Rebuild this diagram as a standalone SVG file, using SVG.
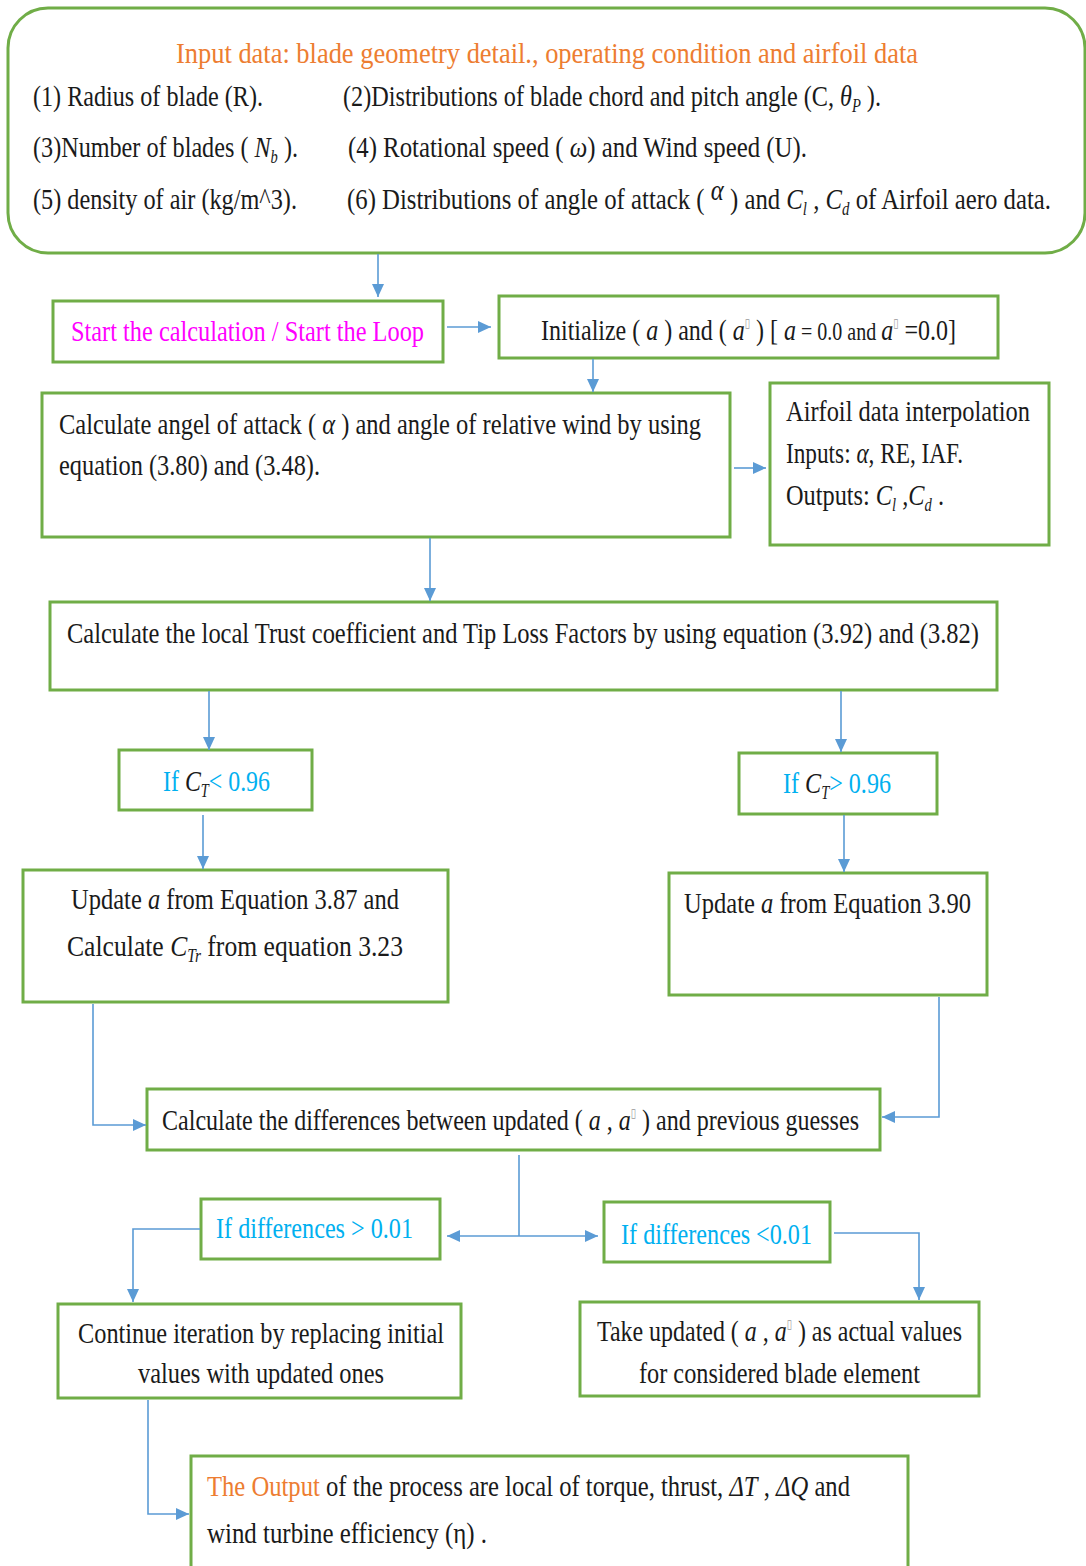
<svg xmlns="http://www.w3.org/2000/svg" width="1086" height="1566" viewBox="0 0 1086 1566">
  <defs>
    <style>
      .box { fill: #ffffff; stroke: #70AD47; stroke-width: 3; }
      .t { font-family: "Liberation Serif", "Times New Roman", serif; font-size: 30px; fill: #1a1a1a; }
      .i { font-style: italic; }
      .sub { font-size: 18px; font-style: italic; }
      .tofu { font-family: "DejaVu Sans", sans-serif; font-size: 12px; fill: #9a9a9a; }
      .cy { fill: #00B0F0; }
      .mg { fill: #FF00FF; }
      .or { fill: #ED7D31; }
      .conn { stroke: #5B9BD5; stroke-width: 1.6; fill: none; }
    </style>
    <marker id="arrow" markerUnits="userSpaceOnUse" markerWidth="13" markerHeight="12" refX="13" refY="6" orient="auto-start-reverse">
      <path d="M0,0 L13,6 L0,12 z" fill="#5B9BD5"/>
    </marker>
  </defs>
  <rect width="1086" height="1566" fill="#ffffff"/>

  <!-- input data panel -->
  <g id="input">
    <rect class="box" x="8" y="8" width="1077" height="245" rx="40" ry="40"/>
    <text class="t or" x="176" y="63" font-size="32" textLength="742" lengthAdjust="spacingAndGlyphs">Input data: blade geometry detail., operating condition and airfoil data</text>
    <text class="t" x="33" y="106" textLength="230" lengthAdjust="spacingAndGlyphs">(1) Radius of blade (R).</text>
    <text class="t" x="343" y="106" textLength="538" lengthAdjust="spacingAndGlyphs">(2)Distributions of blade chord and pitch angle (C, <tspan class="i">θ</tspan><tspan class="sub" dy="6">P</tspan><tspan dy="-6"> ).</tspan></text>
    <text class="t" x="33" y="157" textLength="265" lengthAdjust="spacingAndGlyphs">(3)Number of blades ( <tspan class="i">N</tspan><tspan class="sub" dy="6">b</tspan><tspan dy="-6"> ).</tspan></text>
    <text class="t" x="348" y="157" textLength="459" lengthAdjust="spacingAndGlyphs">(4) Rotational speed (  <tspan class="i">ω</tspan>) and Wind speed (U).</text>
    <text class="t" x="33" y="209" textLength="264" lengthAdjust="spacingAndGlyphs">(5) density of air (kg/m^3).</text>
    <text class="t" x="347" y="209" textLength="704" lengthAdjust="spacingAndGlyphs">(6) Distributions of angle of attack ( <tspan class="i" dy="-9">α</tspan><tspan dy="9">  ) and </tspan><tspan class="i">C</tspan><tspan class="sub" dy="6">l</tspan><tspan dy="-6"> , </tspan><tspan class="i">C</tspan><tspan class="sub" dy="6">d</tspan><tspan dy="-6"> of Airfoil aero data.</tspan></text>
  </g>

  <g id="start">
    <rect class="box" x="53" y="301" width="390" height="61"/>
    <text class="t mg" x="71" y="341" textLength="353" lengthAdjust="spacingAndGlyphs">Start the calculation / Start the Loop</text>
  </g>

  <g id="initialize">
    <rect class="box" x="499" y="296" width="499" height="62"/>
    <text class="t" x="541" y="340" textLength="415" lengthAdjust="spacingAndGlyphs">Initialize ( <tspan class="i">a</tspan> ) and ( <tspan class="i">a</tspan><tspan class="tofu" dy="-13">▯</tspan><tspan dy="13"> ) [ </tspan><tspan class="i">a</tspan><tspan font-size="25"> = 0.0 and </tspan><tspan class="i">a</tspan><tspan class="tofu" dy="-13">▯</tspan><tspan dy="13"> =0.0]</tspan></text>
  </g>

  <g id="angle">
    <rect class="box" x="42" y="393" width="688" height="144"/>
    <text class="t" x="59" y="434" textLength="642" lengthAdjust="spacingAndGlyphs">Calculate angel of attack ( <tspan class="i">α</tspan> ) and angle of relative wind by using</text>
    <text class="t" x="59" y="475" textLength="261" lengthAdjust="spacingAndGlyphs">equation (3.80) and (3.48).</text>
  </g>

  <g id="airfoil">
    <rect class="box" x="770" y="383" width="279" height="162"/>
    <text class="t" x="786" y="421" textLength="244" lengthAdjust="spacingAndGlyphs">Airfoil data interpolation</text>
    <text class="t" x="786" y="463" textLength="177" lengthAdjust="spacingAndGlyphs">Inputs: <tspan class="i">α</tspan>, RE, IAF.</text>
    <text class="t" x="786" y="505" textLength="158" lengthAdjust="spacingAndGlyphs">Outputs: <tspan class="i">C</tspan><tspan class="sub" dy="6">l</tspan><tspan dy="-6"> ,</tspan><tspan class="i">C</tspan><tspan class="sub" dy="6">d</tspan><tspan dy="-6"> .</tspan></text>
  </g>

  <g id="thrust">
    <rect class="box" x="50" y="602" width="947" height="88"/>
    <text class="t" x="67" y="643" textLength="912" lengthAdjust="spacingAndGlyphs">Calculate the local Trust coefficient and Tip Loss Factors by using equation (3.92) and (3.82)</text>
  </g>

  <g id="ct-low">
    <rect class="box" x="119" y="750" width="193" height="60"/>
    <text class="t cy" x="163" y="791" textLength="107" lengthAdjust="spacingAndGlyphs">If <tspan class="i" fill="#1a1a1a">C</tspan><tspan class="sub" fill="#1a1a1a" dy="6">T</tspan><tspan dy="-6">&lt; 0.96</tspan></text>
  </g>

  <g id="ct-high">
    <rect class="box" x="739" y="753" width="198" height="61"/>
    <text class="t cy" x="783" y="793" textLength="108" lengthAdjust="spacingAndGlyphs">If <tspan class="i" fill="#1a1a1a">C</tspan><tspan class="sub" fill="#1a1a1a" dy="6">T</tspan><tspan dy="-6">&gt; 0.96</tspan></text>
  </g>

  <g id="update-low">
    <rect class="box" x="23" y="870" width="425" height="132"/>
    <text class="t" x="71" y="909" textLength="328" lengthAdjust="spacingAndGlyphs">Update  <tspan class="i">a</tspan> from Equation 3.87 and</text>
    <text class="t" x="67" y="956" textLength="336" lengthAdjust="spacingAndGlyphs">Calculate    <tspan class="i">C</tspan><tspan class="sub" dy="6">Tr</tspan><tspan dy="-6"> from equation 3.23</tspan></text>
  </g>

  <g id="update-high">
    <rect class="box" x="669" y="873" width="318" height="122"/>
    <text class="t" x="684" y="913" textLength="287" lengthAdjust="spacingAndGlyphs">Update <tspan class="i">a</tspan>  from Equation 3.90</text>
  </g>

  <g id="differences">
    <rect class="box" x="147" y="1089" width="733" height="61"/>
    <text class="t" x="162" y="1130" textLength="697" lengthAdjust="spacingAndGlyphs">Calculate the differences between updated ( <tspan class="i">a</tspan> , <tspan class="i">a</tspan><tspan class="tofu" dy="-13">▯</tspan><tspan dy="13"> ) and previous guesses</tspan></text>
  </g>

  <g id="diff-high">
    <rect class="box" x="201" y="1199" width="239" height="60"/>
    <text class="t cy" x="216" y="1238" textLength="197" lengthAdjust="spacingAndGlyphs">If differences &gt; 0.01</text>
  </g>

  <g id="diff-low">
    <rect class="box" x="604" y="1202" width="226" height="60"/>
    <text class="t cy" x="621" y="1244" textLength="191" lengthAdjust="spacingAndGlyphs">If differences &lt;0.01</text>
  </g>

  <g id="continue">
    <rect class="box" x="58" y="1304" width="403" height="94"/>
    <text class="t" x="78" y="1343" textLength="366" lengthAdjust="spacingAndGlyphs">Continue iteration by replacing initial</text>
    <text class="t" x="138" y="1383" textLength="246" lengthAdjust="spacingAndGlyphs">values with updated ones</text>
  </g>

  <g id="accept">
    <rect class="box" x="580" y="1302" width="399" height="94"/>
    <text class="t" x="597" y="1341" textLength="365" lengthAdjust="spacingAndGlyphs">Take updated ( <tspan class="i">a</tspan> , <tspan class="i">a</tspan><tspan class="tofu" dy="-13">▯</tspan><tspan dy="13"> ) as actual values</tspan></text>
    <text class="t" x="639" y="1383" textLength="281" lengthAdjust="spacingAndGlyphs">for considered blade element</text>
  </g>

  <g id="output">
    <rect class="box" x="191" y="1456" width="717" height="125"/>
    <text class="t" x="207" y="1496" textLength="643" lengthAdjust="spacingAndGlyphs"><tspan class="or">The Output</tspan> of the process are local of torque, thrust, <tspan class="i">ΔT</tspan> , <tspan class="i">ΔQ</tspan>  and</text>
    <text class="t" x="207" y="1543" textLength="280" lengthAdjust="spacingAndGlyphs">wind turbine efficiency (η)  .</text>
  </g>

  <!-- connectors -->
  <g id="connectors">
    <path class="conn" d="M378,254 V297" marker-end="url(#arrow)"/>
    <path class="conn" d="M447,327 H491" marker-end="url(#arrow)"/>
    <path class="conn" d="M593,359 V392" marker-end="url(#arrow)"/>
    <path class="conn" d="M734,468 H766" marker-end="url(#arrow)"/>
    <path class="conn" d="M430,538 V601" marker-end="url(#arrow)"/>
    <path class="conn" d="M209,691 V750" marker-end="url(#arrow)"/>
    <path class="conn" d="M841,691 V752" marker-end="url(#arrow)"/>
    <path class="conn" d="M203,815 V869" marker-end="url(#arrow)"/>
    <path class="conn" d="M844,815 V872" marker-end="url(#arrow)"/>
    <path class="conn" d="M93,1004 V1125 H146" marker-end="url(#arrow)"/>
    <path class="conn" d="M939,997 V1117 H882" marker-end="url(#arrow)"/>
    <path class="conn" d="M519,1155 V1236"/>
    <path class="conn" d="M447,1236 H598" marker-start="url(#arrow)" marker-end="url(#arrow)"/>
    <path class="conn" d="M200,1229 H133 V1302" marker-end="url(#arrow)"/>
    <path class="conn" d="M834,1233 H919 V1300" marker-end="url(#arrow)"/>
    <path class="conn" d="M148,1400 V1514 H189" marker-end="url(#arrow)"/>
  </g>
</svg>
